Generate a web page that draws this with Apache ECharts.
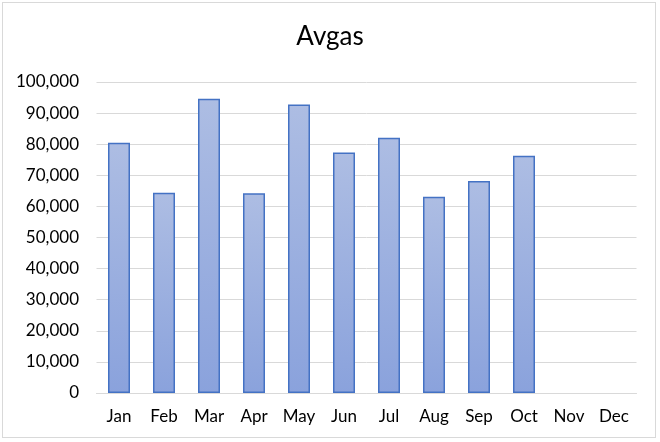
<!DOCTYPE html>
<html>
<head>
<meta charset="utf-8">
<script src="https://cdn.jsdelivr.net/npm/echarts@6/dist/echarts.min.js"></script>
<style>
html,body{margin:0;padding:0;background:#fff;}
#wrap{position:relative;width:660px;height:442px;}
#frame{position:absolute;left:2px;top:2px;width:654px;height:436px;border:1px solid #d9d9d9;box-sizing:border-box;}
#chart{position:absolute;left:0;top:0;width:660px;height:442px;}
</style>
</head>
<body>
<div id="wrap"><div id="frame"></div><div id="chart"></div></div>
<script>
const categories = ['Jan','Feb','Mar','Apr','May','Jun','Jul','Aug','Sep','Oct','Nov','Dec'];
const avgas = [80500, 64400, 94600, 64200, 92800, 77300, 82100, 63100, 68200, 76300, null, null];
const yTicks = {min: 0, max: 100000, interval: 10000};

const chart = echarts.init(document.getElementById('chart'), null, {renderer: 'canvas'});
chart.setOption({
  animation: false,
  title: {
    text: 'Avgas', left: 'center', top: 19,
    textStyle: {fontFamily: 'Lato', fontSize: 26, fontWeight: 'normal', color: '#000'}
  },
  grid: {left: 96.5, right: 23.5, top: 82, bottom: 49, containLabel: false},
  xAxis: {
    type: 'category', data: categories,
    axisLine: {show: true, lineStyle: {color: '#d9d9d9', width: 1}},
    axisTick: {show: false},
    axisLabel: {fontFamily: 'Lato', fontSize: 17, color: '#000', margin: 15}
  },
  yAxis: {
    type: 'value', min: yTicks.min, max: yTicks.max, interval: yTicks.interval,
    axisLine: {show: false}, axisTick: {show: false},
    splitLine: {lineStyle: {color: '#d9d9d9', width: 1}},
    axisLabel: {
      fontFamily: 'Lato', fontSize: 17, color: '#000', margin: 17.5,
      formatter: v => v.toLocaleString('en-US')
    }
  },
  series: [{
    type: 'bar', data: avgas, barWidth: 22,
    itemStyle: {
      color: new echarts.graphic.LinearGradient(0, 0, 0, 1, [
        {offset: 0, color: '#adbde3'},
        {offset: 1, color: '#8aa2dc'}
      ]),
      borderColor: '#4472c4', borderWidth: 1.5
    }
  }]
});
</script>
</body>
</html>
